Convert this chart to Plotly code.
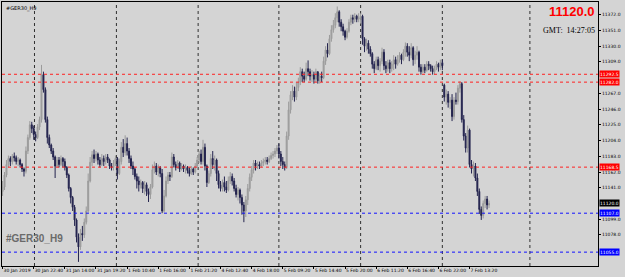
import plotly.graph_objects as go

# ---------------- data ----------------
opens = [
 11136, 11142, 11158, 11172, 11180, 11176, 11183, 11181, 11176, 11178,
 11172, 11166, 11163, 11190, 11208, 11225, 11220, 11212, 11208, 11222,
 11232, 11292, 11272, 11232, 11208, 11198, 11190, 11182, 11170, 11178,
 11172, 11180, 11176, 11168, 11158, 11140, 11128, 11115, 11098, 11075,
 11062, 11080, 11078, 11095, 11110, 11150, 11175, 11185, 11180, 11186,
 11178, 11172, 11180, 11176, 11182, 11178, 11170, 11168, 11174, 11180,
 11160, 11176, 11195, 11188, 11200, 11190, 11180, 11170, 11166, 11156,
 11150, 11145, 11148, 11140, 11145, 11136, 11132, 11142, 11165, 11170,
 11162, 11168, 11160, 11110, 11130, 11150, 11158, 11156, 11182, 11172,
 11168, 11174, 11166, 11170, 11166, 11168, 11164, 11160, 11166, 11162,
 11170, 11178, 11186, 11176, 11195, 11170, 11148, 11160, 11180, 11172,
 11178, 11160, 11145, 11140, 11148, 11142, 11138, 11150, 11156, 11150,
 11140, 11132, 11138, 11128, 11118, 11110, 11125, 11140, 11155, 11165,
 11174, 11170, 11172, 11170, 11174, 11176, 11178, 11176, 11180, 11184,
 11186, 11190, 11194, 11186, 11176, 11172, 11168, 11210, 11245, 11265,
 11270, 11262, 11275, 11282, 11296, 11290, 11286, 11300, 11296, 11290,
 11292, 11286, 11296, 11284, 11290, 11288, 11310, 11325, 11320, 11340,
 11352, 11358, 11368, 11376, 11362, 11356, 11350, 11342, 11350, 11362,
 11368, 11366, 11370, 11366, 11368, 11370, 11340, 11330, 11334, 11326,
 11320, 11306, 11300, 11312, 11304, 11310, 11322, 11304, 11300, 11308,
 11300, 11306, 11312, 11306, 11312, 11318, 11312, 11322, 11330, 11322,
 11318, 11328, 11312, 11318, 11322, 11302, 11296, 11302, 11298, 11306,
 11304, 11300, 11296, 11300, 11306, 11302, 11308, 11278, 11262, 11266,
 11255, 11258, 11236, 11258, 11256, 11274, 11280, 11232, 11210, 11194,
 11218, 11172, 11166, 11170, 11154, 11136, 11112, 11104, 11120, 11126, 11118,
]
highs = [
 11150, 11162, 11178, 11184, 11183, 11186, 11188, 11184, 11182, 11180,
 11174, 11168, 11196, 11212, 11230, 11229, 11224, 11216, 11226, 11236,
 11305, 11296, 11275, 11236, 11212, 11200, 11194, 11184, 11182, 11182,
 11184, 11182, 11180, 11170, 11160, 11142, 11130, 11118, 11100, 11080,
 11086, 11090, 11100, 11116, 11160, 11182, 11190, 11192, 11190, 11188,
 11182, 11186, 11184, 11186, 11186, 11180, 11174, 11178, 11184, 11182,
 11180, 11202, 11206, 11211, 11208, 11194, 11184, 11176, 11168, 11160,
 11156, 11152, 11150, 11150, 11148, 11140, 11146, 11172, 11176, 11174,
 11172, 11170, 11166, 11138, 11156, 11162, 11162, 11188, 11186, 11176,
 11178, 11176, 11174, 11172, 11172, 11170, 11168, 11170, 11168, 11174,
 11182, 11190, 11192, 11205, 11200, 11172, 11164, 11186, 11190, 11184,
 11180, 11164, 11150, 11152, 11156, 11150, 11156, 11162, 11160, 11154,
 11145, 11142, 11140, 11132, 11122, 11130, 11146, 11160, 11170, 11178,
 11178, 11176, 11176, 11178, 11180, 11182, 11182, 11184, 11188, 11190,
 11194, 11198, 11200, 11190, 11182, 11176, 11216, 11256, 11270, 11278,
 11276, 11282, 11288, 11302, 11300, 11296, 11308, 11311, 11300, 11298,
 11296, 11300, 11296, 11294, 11296, 11316, 11330, 11334, 11345, 11358,
 11365, 11374, 11383, 11378, 11366, 11360, 11352, 11354, 11366, 11372,
 11372, 11374, 11372, 11374, 11374, 11372, 11342, 11340, 11338, 11330,
 11322, 11310, 11316, 11316, 11314, 11328, 11326, 11310, 11312, 11312,
 11310, 11318, 11316, 11318, 11322, 11320, 11326, 11335, 11334, 11330,
 11334, 11330, 11324, 11330, 11324, 11306, 11306, 11306, 11310, 11310,
 11306, 11304, 11304, 11310, 11308, 11312, 11312, 11280, 11272, 11270,
 11262, 11266, 11262, 11268, 11278, 11283, 11282, 11238, 11214, 11224,
 11220, 11178, 11176, 11174, 11160, 11140, 11116, 11124, 11130, 11130, 11124,
]
lows = [
 11130, 11138, 11155, 11168, 11170, 11172, 11176, 11172, 11170, 11168,
 11162, 11156, 11160, 11186, 11205, 11214, 11205, 11203, 11206, 11218,
 11228, 11268, 11228, 11200, 11194, 11186, 11178, 11154, 11168, 11168,
 11170, 11168, 11164, 11154, 11136, 11120, 11110, 11090, 11068, 11042,
 11058, 11070, 11074, 11092, 11108, 11148, 11170, 11174, 11176, 11172,
 11168, 11170, 11170, 11172, 11174, 11166, 11164, 11164, 11170, 11152,
 11158, 11172, 11182, 11184, 11184, 11174, 11166, 11158, 11152, 11140,
 11136, 11140, 11134, 11132, 11130, 11122, 11126, 11140, 11160, 11158,
 11156, 11155, 11107, 11108, 11128, 11146, 11150, 11154, 11168, 11164,
 11166, 11162, 11164, 11162, 11160, 11160, 11156, 11158, 11158, 11160,
 11168, 11174, 11172, 11172, 11164, 11142, 11146, 11156, 11166, 11164,
 11150, 11140, 11136, 11136, 11136, 11134, 11136, 11146, 11144, 11136,
 11128, 11124, 11120, 11105, 11095, 11102, 11118, 11136, 11150, 11160,
 11164, 11166, 11166, 11168, 11170, 11172, 11172, 11174, 11178, 11180,
 11182, 11186, 11180, 11170, 11166, 11164, 11166, 11205, 11240, 11258,
 11256, 11258, 11270, 11278, 11282, 11282, 11284, 11290, 11284, 11282,
 11280, 11282, 11280, 11280, 11282, 11286, 11305, 11315, 11318, 11336,
 11348, 11354, 11362, 11356, 11350, 11344, 11338, 11340, 11348, 11358,
 11360, 11362, 11362, 11362, 11360, 11332, 11322, 11324, 11320, 11316,
 11300, 11294, 11298, 11298, 11296, 11306, 11298, 11294, 11296, 11294,
 11296, 11298, 11300, 11304, 11308, 11306, 11310, 11316, 11316, 11310,
 11314, 11304, 11306, 11312, 11296, 11292, 11294, 11294, 11296, 11298,
 11296, 11292, 11292, 11298, 11296, 11298, 11298, 11256, 11252, 11248,
 11246, 11230, 11232, 11252, 11252, 11268, 11228, 11204, 11188, 11188,
 11168, 11160, 11156, 11150, 11130, 11106, 11098, 11100, 11114, 11112, 11114,
]
closes = [
 11142, 11158, 11172, 11180, 11176, 11183, 11181, 11176, 11178, 11172,
 11166, 11163, 11190, 11208, 11225, 11220, 11212, 11208, 11222, 11232,
 11292, 11272, 11232, 11208, 11198, 11190, 11182, 11170, 11178, 11172,
 11180, 11176, 11168, 11158, 11140, 11128, 11115, 11098, 11075, 11062,
 11080, 11078, 11095, 11110, 11150, 11175, 11185, 11180, 11186, 11178,
 11172, 11180, 11176, 11182, 11178, 11170, 11168, 11174, 11180, 11160,
 11176, 11195, 11188, 11200, 11190, 11180, 11170, 11166, 11156, 11150,
 11145, 11148, 11140, 11145, 11136, 11132, 11142, 11165, 11170, 11162,
 11168, 11160, 11110, 11130, 11150, 11158, 11156, 11182, 11172, 11168,
 11174, 11166, 11170, 11166, 11168, 11164, 11160, 11166, 11162, 11170,
 11178, 11186, 11176, 11195, 11170, 11148, 11160, 11180, 11172, 11178,
 11160, 11145, 11140, 11148, 11142, 11138, 11150, 11156, 11150, 11140,
 11132, 11138, 11128, 11118, 11110, 11125, 11140, 11155, 11165, 11174,
 11170, 11172, 11170, 11174, 11176, 11178, 11176, 11180, 11184, 11186,
 11190, 11194, 11186, 11176, 11172, 11168, 11210, 11245, 11265, 11270,
 11262, 11275, 11282, 11296, 11290, 11286, 11300, 11296, 11290, 11292,
 11286, 11296, 11284, 11290, 11288, 11310, 11325, 11320, 11340, 11352,
 11358, 11368, 11376, 11362, 11356, 11350, 11342, 11350, 11362, 11368,
 11366, 11370, 11366, 11368, 11370, 11340, 11330, 11334, 11326, 11320,
 11306, 11300, 11312, 11304, 11310, 11322, 11304, 11300, 11308, 11300,
 11306, 11312, 11306, 11312, 11318, 11312, 11322, 11330, 11322, 11318,
 11328, 11312, 11318, 11322, 11302, 11296, 11302, 11298, 11306, 11304,
 11300, 11296, 11300, 11306, 11302, 11308, 11304, 11262, 11266, 11255,
 11258, 11236, 11258, 11256, 11274, 11280, 11232, 11210, 11194, 11218,
 11172, 11166, 11170, 11154, 11136, 11112, 11104, 11120, 11126, 11118, 11120,
]

time_labels = ["30 Jan 2019", "30 Jan 22:40", "31 Jan 14:00", "31 Jan 19:20",
               "1 Feb 10:40", "1 Feb 16:00", "1 Feb 21:20", "4 Feb 12:40",
               "4 Feb 18:00", "5 Feb 09:20", "5 Feb 14:40", "5 Feb 20:00",
               "6 Feb 11:20", "6 Feb 16:40", "6 Feb 22:00", "7 Feb 13:20"]
bars_per_label = 16
day_breaks = [16.4, 58.5, 100.5, 142, 184, 226, 271]

# tick labels visible on the price scale (others are hidden under price boxes)
y_ticks = [11372, 11351, 11330, 11309, 11267, 11246, 11225, 11204,
           11183, 11162, 11141, 11099, 11078]

red_levels = [11292.5, 11282.0, 11168.5]
blue_levels = [11107.0, 11055.0]
current_price = 11120.0
symbol = "#GER30_H9"
gmt_time = "14:27:05"

# ---------------- figure ----------------
BG = "#d4d4d4"
x = list(range(len(closes)))

fig = go.Figure(go.Candlestick(
    x=x, open=opens, high=highs, low=lows, close=closes,
    increasing=dict(line=dict(color="#9b9b9b", width=1), fillcolor="#a8a8a8"),
    decreasing=dict(line=dict(color="#23234e", width=1), fillcolor="#23234e"),
    whiskerwidth=0, hoverinfo="skip", showlegend=False,
))

shapes = []
for d in day_breaks:
    shapes.append(dict(type="line", xref="x", yref="paper", x0=d, x1=d, y0=0, y1=1,
                       line=dict(color="#303030", width=1, dash="dot"), layer="below"))
for lv in red_levels:
    shapes.append(dict(type="line", xref="paper", yref="y", x0=0, x1=1, y0=lv, y1=lv,
                       line=dict(color="#ff2020", width=1, dash="dot")))
for lv in blue_levels:
    shapes.append(dict(type="line", xref="paper", yref="y", x0=0, x1=1, y0=lv, y1=lv,
                       line=dict(color="#1010ff", width=1, dash="dot")))

annotations = []
def price_box(v, bg):
    annotations.append(dict(xref="paper", yref="y", x=1, y=v, xanchor="left", yanchor="middle",
                            xshift=1, text=f"{v:.1f}", showarrow=False, bgcolor=bg,
                            borderpad=0, height=6,
                            font=dict(family="DejaVu Sans", size=4.5, color="white")))
for lv in red_levels:
    price_box(lv, "#ff0000")
for lv in blue_levels:
    price_box(lv, "#0000ff")
price_box(current_price, "#000000")

annotations.append(dict(xref="paper", yref="paper", x=0, y=1, xanchor="left", yanchor="top",
                        xshift=2, yshift=-1, text=symbol, showarrow=False,
                        font=dict(family="DejaVu Sans", size=5, color="black")))
annotations.append(dict(xref="paper", yref="paper", x=1, y=1, xanchor="right", yanchor="top",
                        xshift=-1, yshift=0, text=f"<b>{current_price:.1f}</b>", showarrow=False,
                        font=dict(family="Liberation Sans", size=13, color="#ff0000")))
annotations.append(dict(xref="paper", yref="paper", x=1, y=1, xanchor="right", yanchor="top",
                        xshift=-1, yshift=-22, text=f"GMT:&nbsp; {gmt_time}", showarrow=False,
                        font=dict(family="Liberation Serif", size=8, color="black")))
annotations.append(dict(xref="paper", yref="paper", x=0, y=0, xanchor="left", yanchor="bottom",
                        xshift=2, yshift=20, text=f"<b>{symbol}</b>", showarrow=False,
                        font=dict(family="Liberation Sans", size=10, color="#6a6a6a")))

fig.update_layout(
    width=625, height=277,
    margin=dict(l=2, r=27, t=2, b=11),
    paper_bgcolor=BG, plot_bgcolor=BG,
    shapes=shapes, annotations=annotations,
    showlegend=False,
    xaxis=dict(
        range=[-0.3, 306], rangeslider=dict(visible=False), showgrid=False, zeroline=False,
        tickvals=[i * bars_per_label for i in range(len(time_labels))], ticktext=time_labels,
        ticks="outside", ticklen=2, tickcolor="black", tickangle=0, automargin=False,
        ticklabelposition="outside right",
        tickfont=dict(family="DejaVu Sans", size=4.5, color="black"),
        showline=True, linecolor="black", linewidth=1, mirror=True,
    ),
    yaxis=dict(
        side="right", range=[11036.5, 11389], showgrid=False, zeroline=False,
        tickvals=y_ticks, ticktext=[f"{v:.1f}" for v in y_ticks], automargin=False,
        ticks="outside", ticklen=2, tickcolor="black",
        tickfont=dict(family="DejaVu Sans", size=4.5, color="black"),
        showline=True, linecolor="black", linewidth=1, mirror=True,
    ),
)

fig.write_html("out.html")
